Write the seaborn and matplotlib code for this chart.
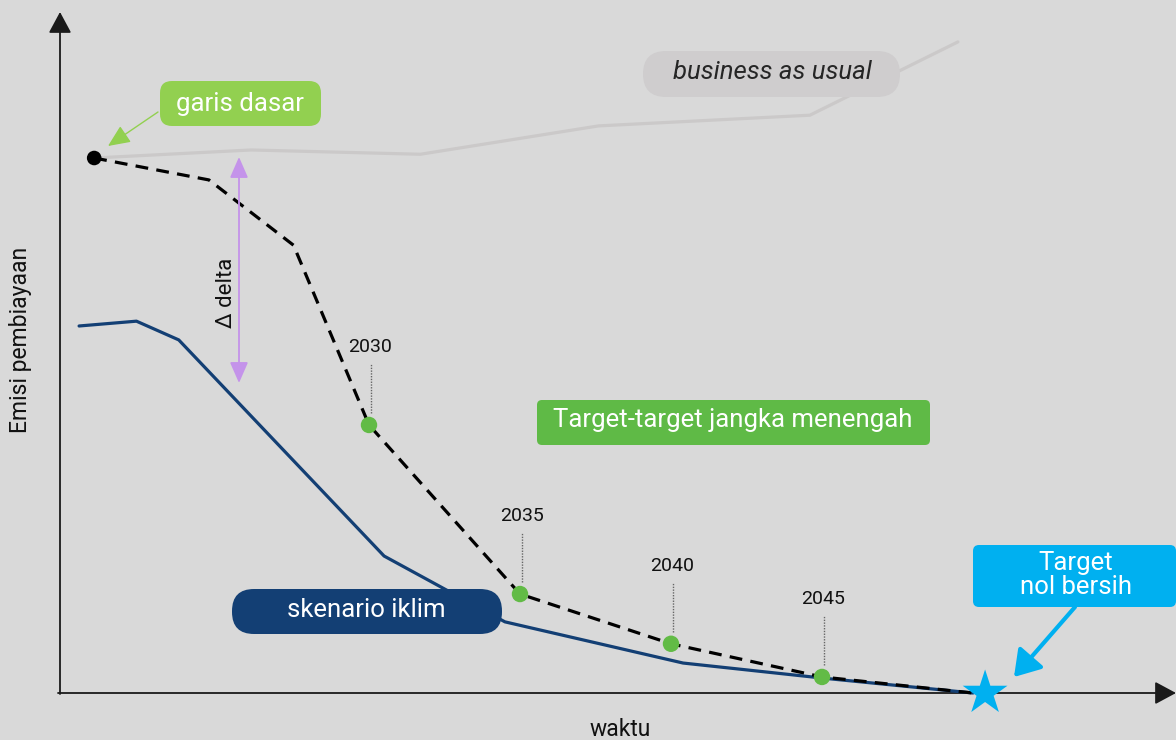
import numpy as np
import pandas as pd
import seaborn as sns
import matplotlib.pyplot as plt
from matplotlib.patches import FancyBboxPatch

# Data (x = year, y = relative financed emissions)
bau_years = [2020.9, 2026.1, 2031.7, 2037.6, 2044.6, 2049.5]
bau_emissions = [100, 101.5, 100.7, 106.0, 108.0, 121.7]

path_years = [2020.9, 2024.7, 2027.5, 2030, 2035, 2040, 2045, 2050]
path_emissions = [100, 95.9, 83.7, 50.1, 18.5, 9.2, 3.0, 0]

climate_years = [2020.4, 2022.3, 2023.7, 2030.5, 2034.5, 2040.4, 2045, 2050]
climate_emissions = [68.6, 69.5, 66.0, 25.6, 13.3, 5.6, 2.8, 0]

milestone_years = [2030, 2035, 2040, 2045]
milestone_emissions = [50.1, 18.5, 9.2, 3.0]
milestone_labels = ['2030', '2035', '2040', '2045']

baseline_year = [2020.9]
baseline_emission = [100]
target_year = [2050.4]
target_emission = [0]

# Layout
W, H = 1176, 740
BG = '#d9d9d9'
PX_YEAR = 30.2    # pixels per year
PX_UNIT = 5.35    # pixels per emission unit

sns.set_style('white')
plt.rcParams['font.family'] = ['Roboto', 'DejaVu Sans']

fig = plt.figure(figsize=(W / 100, H / 100), dpi=100, facecolor=BG)


def pixel_axes():
    a = fig.add_axes([0, 0, 1, 1])
    a.set_xlim(0, W)
    a.set_ylim(H, 0)
    a.axis('off')
    a.patch.set_alpha(0)
    return a


back = pixel_axes()

ax = fig.add_axes([0, 0, 1, 1])
ax.set_xlim(2030 - 369 / PX_YEAR, 2030 + (W - 369) / PX_YEAR)
ax.set_ylim(-(H - 693) / PX_UNIT, 693 / PX_UNIT)
ax.axis('off')
ax.patch.set_alpha(0)

front = pixel_axes()

######################################## Axes arrows ########################################

axis_arrow = dict(arrowstyle='-|>,head_length=0.65,head_width=0.35', color='#1a1a1a',
                  lw=1.3, shrinkA=0, shrinkB=0, mutation_scale=20)
back.annotate('', xy=(60, 12), xytext=(60, 694), arrowprops=axis_arrow)
back.annotate('', xy=(1176, 693), xytext=(58, 693), arrowprops=axis_arrow)

back.text(21, 340, 'Emisi pembiayaan', rotation=90, ha='center', va='center',
          fontsize=16.5, color='#111111')
back.text(620, 730, 'waktu', ha='center', va='center', fontsize=16.5, color='#111111')

######################################## Lines ########################################

sns.lineplot(x=bau_years, y=bau_emissions, ax=ax, color='#cbc9c9', lw=2.3)
sns.lineplot(x=climate_years, y=climate_emissions, ax=ax, color='#133f74', lw=2.3)
sns.lineplot(x=path_years, y=path_emissions, ax=ax, color='black', lw=2.3,
             linestyle=(0, (4, 2.6)))

sns.scatterplot(x=baseline_year, y=baseline_emission, ax=ax, color='black', s=110,
                edgecolor='none', zorder=5)
sns.scatterplot(x=milestone_years, y=milestone_emissions, ax=ax, color='#62bb46', s=140,
                edgecolor='none', zorder=5)
sns.scatterplot(x=target_year, y=target_emission, ax=ax, color='#00b0f0', marker='*',
                s=1150, edgecolor='none', zorder=6)

# milestone labels with dotted leaders
for yr, val, lab in zip(milestone_years, milestone_emissions, milestone_labels):
    ax.plot([yr + 0.07, yr + 0.07], [val + 12 / PX_UNIT, val + 62 / PX_UNIT],
            color='#666666', lw=1, linestyle=(0, (1, 1)))
    ax.text(yr + 0.05, val + 78 / PX_UNIT, lab, ha='center', va='center',
            fontsize=14, color='#111111')

######################################## Callout boxes ########################################


def box(x0, y0, x1, y1, color, r):
    front.add_patch(FancyBboxPatch((x0, y0), x1 - x0, y1 - y0,
                                   boxstyle=f'round,pad=0,rounding_size={r}',
                                   fc=color, ec='none'))


box(160, 81, 321, 126, '#92d050', 12)
front.text(240, 104, 'garis dasar', ha='center', va='center', fontsize=18.5, color='white')

box(643, 51, 900, 97, '#cfcdce', 23)
front.text(772, 72, 'business as usual', ha='center', va='center', fontsize=18.5,
           style='italic', color='#262626')

box(537, 400, 930, 445, '#5fba46', 5)
front.text(733, 420, 'Target-target jangka menengah', ha='center', va='center',
           fontsize=18.5, color='white')

box(232, 589, 502, 634, '#133f74', 22)
front.text(366, 610, 'skenario iklim', ha='center', va='center', fontsize=18.5, color='white')

box(973, 545, 1176, 607, '#00b0f0', 6)
front.text(1076, 575, 'Target\nnol bersih', ha='center', va='center', fontsize=18.5,
           color='white', linespacing=0.95)

######################################## Pointer arrows ########################################

front.annotate('', xy=(108, 146), xytext=(158, 112),
               arrowprops=dict(arrowstyle='-|>,head_length=0.9,head_width=0.4',
                               color='#92d050', lw=1, shrinkA=0, shrinkB=0, mutation_scale=15))
front.annotate('', xy=(1014, 677), xytext=(1075, 607),
               arrowprops=dict(arrowstyle='-|>,head_length=0.7,head_width=0.45',
                               color='#00b0f0', lw=3, shrinkA=0, shrinkB=0, mutation_scale=22))
front.annotate('', xy=(239, 383), xytext=(239, 157),
               arrowprops=dict(arrowstyle='<|-|>,head_length=0.8,head_width=0.35',
                               color='#c493ea', lw=1.3, shrinkA=0, shrinkB=0, mutation_scale=16))
front.text(227, 293, 'Δ delta', rotation=90, ha='center', va='center', fontsize=16,
           color='#111111')

plt.savefig('out.png', dpi=100, facecolor=BG)
